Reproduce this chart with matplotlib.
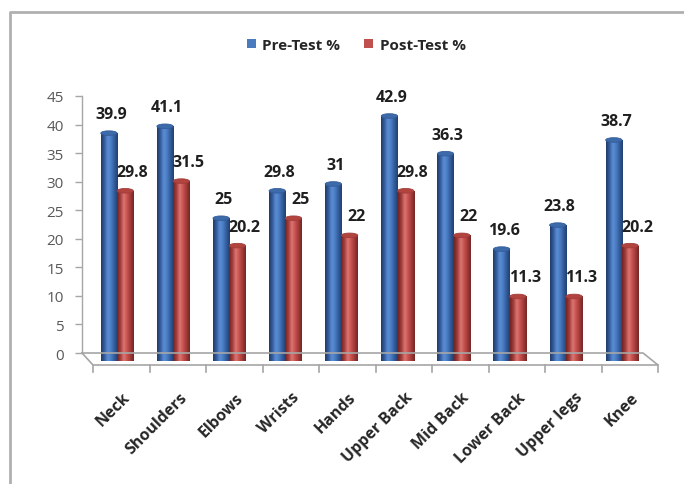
import numpy as np
import matplotlib
matplotlib.use("Agg")
import matplotlib.pyplot as plt
from matplotlib.transforms import ScaledTranslation, IdentityTransform
from matplotlib.patches import Ellipse, Rectangle
from matplotlib.colors import LinearSegmentedColormap
from matplotlib.lines import Line2D

# ---- data -------------------------------------------------------------
categories = ["Neck", "Shoulders", "Elbows", "Wrists", "Hands",
              "Upper Back", "Mid Back", "Lower Back", "Upper legs", "Knee"]
pre_test = [39.9, 41.1, 25, 29.8, 31, 42.9, 36.3, 19.6, 23.8, 38.7]
post_test = [29.8, 31.5, 20.2, 25, 22, 29.8, 22, 11.3, 11.3, 20.2]
series_names = ["Pre-Test %", "Post-Test %"]
y_ticks = [0, 5, 10, 15, 20, 25, 30, 35, 40, 45]

# ---- styling ----------------------------------------------------------
W, H, DPI = 684, 485, 100
FONT = ["Liberation Sans Narrow", "Open Sans", "DejaVu Sans"]
plt.rcParams["font.family"] = FONT

blue_shades = ["#203a66", "#345c9c", "#5b8fd6", "#4a7cc2", "#325b9a", "#223f6e"]
red_shades = ["#6e2221", "#a33c3a", "#dc7774", "#c8524f", "#a03a38", "#722726"]
base_colors = ["#4a7bbf", "#c0504d"]
top_colors = ["#3d6aa8", "#b2443f"]

fig = plt.figure(figsize=(W / DPI, H / DPI), dpi=DPI)
fig.patch.set_facecolor("white")

# plot area (back wall plane of the 3-D chart)
ax = fig.add_axes([82 / W, (H - 354) / H, 561 / W, 257 / H])
ax.set_facecolor("none")
for side in ("top", "right", "bottom"):
    ax.spines[side].set_visible(False)
ax.spines["left"].set_color("#a6a6a6")
ax.spines["left"].set_linewidth(1.0)
ax.set_xticks([])
ax.set_yticks(y_ticks)
ax.tick_params(axis="y", length=5, width=1.0, color="#a6a6a6",
               labelcolor="#595959", labelsize=11, pad=8)


def px(dx, dy):
    return ScaledTranslation(dx / DPI, dy / DPI, fig.dpi_scale_trans)


# bars sit slightly in front of the wall plane
bar_trans = ax.transData + px(7, -8)

x = np.arange(len(categories))
bw = 0.29
offsets = [-bw / 2, bw / 2]
label_dx = [2, 7]
grad = np.linspace(0, 1, 128).reshape(1, -1)

for s, (vals, shades) in enumerate(zip([pre_test, post_test], [blue_shades, red_shades])):
    cmap = LinearSegmentedColormap.from_list(f"cyl{s}", shades)
    bars = ax.bar(x + offsets[s], vals, width=bw, color=base_colors[s],
                  transform=bar_trans, zorder=3, linewidth=0,
                  label=series_names[s])
    for rect, v in zip(bars, vals):
        x0 = rect.get_x()
        x1 = x0 + rect.get_width()
        xc = (x0 + x1) / 2
        # cylinder body with a horizontal shading gradient
        im = ax.imshow(grad, cmap=cmap, extent=(x0, x1, 0, v), aspect="auto",
                       interpolation="bicubic", transform=bar_trans, zorder=3.1)
        im.set_clip_path(rect)
        # rounded bottom
        bot = Ellipse((xc, 0), bw, 0.8, transform=bar_trans)
        im2 = ax.imshow(grad, cmap=cmap, extent=(x0, x1, -0.5, 0.5), aspect="auto",
                        interpolation="bicubic", transform=bar_trans, zorder=3.05)
        im2.set_clip_path(bot)
        # top cap
        ax.add_patch(Ellipse((xc, v), bw, 0.8, facecolor=top_colors[s],
                             edgecolor=shades[1], linewidth=0.6,
                             transform=bar_trans, zorder=3.3))
        ax.annotate(f"{v:g}", xy=(xc, v), xycoords=bar_trans,
                    xytext=(label_dx[s] * 0.72, 19 * 0.72), textcoords="offset points",
                    ha="center", va="center", fontsize=11.5, fontweight="bold",
                    color="#1f1f1f", zorder=5)

ax.set_xlim(-0.5, len(categories) - 0.5)
ax.set_ylim(0, 45)

# ---- floor of the 3-D chart ------------------------------------------
fig.canvas.draw()
bl = ax.transData.transform((-0.5, 0))
br = ax.transData.transform((len(categories) - 0.5, 0))
fl = bl + np.array([11, -12])
fr = br + np.array([15, -12])
floor_kw = dict(color="#a6a6a6", linewidth=1.2, transform=IdentityTransform(), zorder=1)
fig.add_artist(Line2D([bl[0], br[0], fr[0], fl[0], bl[0]],
                      [bl[1], br[1], fr[1], fl[1], bl[1]], **floor_kw))
n = len(categories)
for k in range(n + 1):
    xt = fl[0] + (fr[0] - fl[0]) * k / n
    fig.add_artist(Line2D([xt, xt], [fl[1], fl[1] - 7], **floor_kw))

# category labels below the front edge
for k, name in enumerate(categories):
    xc = fl[0] + (fr[0] - fl[0]) * (k + 0.5) / n
    fig.text((xc + 1) / W, (fl[1] - 24) / H, name, rotation=45,
             rotation_mode="anchor", ha="right", va="top",
             fontsize=11.5, fontweight="bold", color="#262626")

# ---- legend -----------------------------------------------------------
handles = [Rectangle((0, 0), 1, 1, facecolor=c, edgecolor="none") for c in base_colors]
fig.legend(handles, series_names, loc="center", bbox_to_anchor=(356 / W, (H - 46) / H),
           ncol=2, frameon=False, handlelength=0.6, handleheight=0.6,
           handletextpad=0.4, columnspacing=1.6,
           prop=dict(family=FONT, size=11, weight="bold"), labelcolor="#262626")

# ---- outer chart frame ------------------------------------------------
frame_kw = dict(color="#b0b0b0", linewidth=2, transform=IdentityTransform(), zorder=0)
fig.add_artist(Line2D([10, 10, W], [0, H - 13, H - 13], **frame_kw))

fig.savefig("out.png", dpi=DPI, facecolor="white")
